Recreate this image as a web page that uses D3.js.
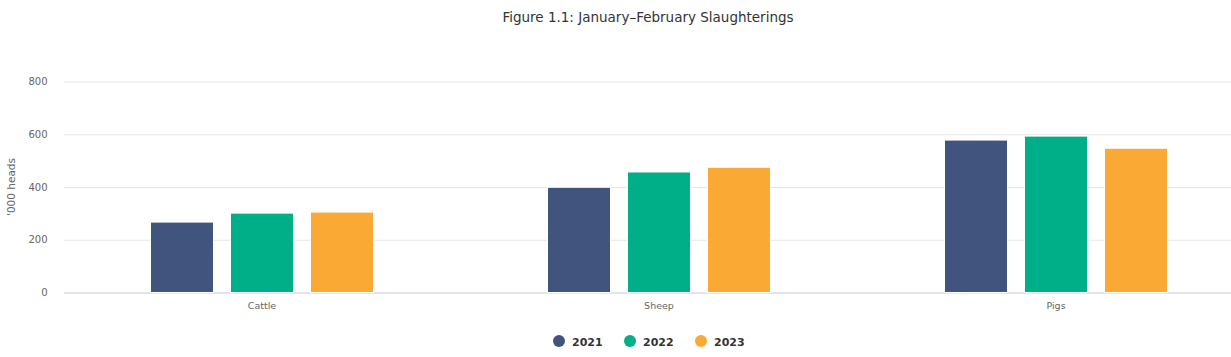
<!DOCTYPE html>
<html><head><meta charset="utf-8">
<script src="https://cdn.jsdelivr.net/npm/d3@7"></script>
<style>body{margin:0;background:#fff;overflow:hidden}svg{display:block}</style>
</head><body>
<script>
const categories = ["Cattle", "Sheep", "Pigs"];
const seriesNames = ["2021", "2022", "2023"];
const values2021 = [267, 399, 578];
const values2022 = [301, 457, 593];
const values2023 = [305, 475, 547];
const yTicks = [0, 200, 400, 600, 800];
const colors = ["#40547e", "#00ae87", "#faa935"];
const title = "Figure 1.1: January–February Slaughterings";
const yTitle = "'000 heads";

const series = [values2021, values2022, values2023];
const W = 1231, H = 357;
const svg = d3.select("body").append("svg").attr("width", W).attr("height", H);
const font = "'DejaVu Sans', Verdana, sans-serif";

const mLeft = 63.5, mRight = 1254.5, mTop = 81.5, mBottom = 292.5;
const x = d3.scaleBand().domain(categories).range([mLeft, mRight]).paddingInner(0).paddingOuter(0);
const xs = d3.scaleBand().domain(seriesNames).range([0, x.bandwidth()]).paddingInner(0.2125).paddingOuter(1.0875);
const y = d3.scaleLinear().domain([0, 800]).range([mBottom, mTop]);

svg.append("text").attr("x", 648).attr("y", 22).attr("text-anchor", "middle")
  .attr("font-family", font).attr("font-size", 13.5).attr("fill", "#333").text(title);

const yAxis = svg.append("g").attr("transform", `translate(${mLeft},0)`)
  .call(d3.axisLeft(y).tickValues(yTicks).tickSize(-(mRight - mLeft)).tickPadding(16));
yAxis.select(".domain").remove();
yAxis.selectAll(".tick line").attr("stroke", "#e6e6e6");
yAxis.selectAll(".tick text").attr("font-family", font).attr("font-size", 10).attr("fill", "#666");

svg.append("text").attr("transform", `translate(15,${(mTop + mBottom) / 2}) rotate(-90)`)
  .attr("text-anchor", "middle").attr("font-family", font).attr("font-size", 10.5).attr("fill", "#666").text(yTitle);

const xAxis = svg.append("g").attr("transform", `translate(0,${mBottom})`)
  .call(d3.axisBottom(x).tickSize(0).tickPadding(10));
xAxis.select(".domain").attr("stroke", "#ccd6eb");
xAxis.selectAll(".tick text").attr("font-family", font).attr("font-size", 9.5).attr("fill", "#666");

categories.forEach((c, ci) => {
  series.forEach((vals, si) => {
    svg.append("rect")
      .attr("x", x(c) + xs(seriesNames[si]))
      .attr("y", y(vals[ci]))
      .attr("width", xs.bandwidth())
      .attr("height", y(0) - y(vals[ci]))
      .attr("fill", colors[si]).attr("stroke", "#fff").attr("stroke-width", 1);
  });
});

const legendX = [559, 630, 701];
const lg = svg.append("g");
seriesNames.forEach((s, i) => {
  lg.append("circle").attr("cx", legendX[i]).attr("cy", 341).attr("r", 6).attr("fill", colors[i]);
  lg.append("text").attr("x", legendX[i] + 13).attr("y", 345.5).attr("font-family", font)
    .attr("font-size", 11).attr("font-weight", "bold").attr("fill", "#333").text(s);
});
</script>
</body></html>
